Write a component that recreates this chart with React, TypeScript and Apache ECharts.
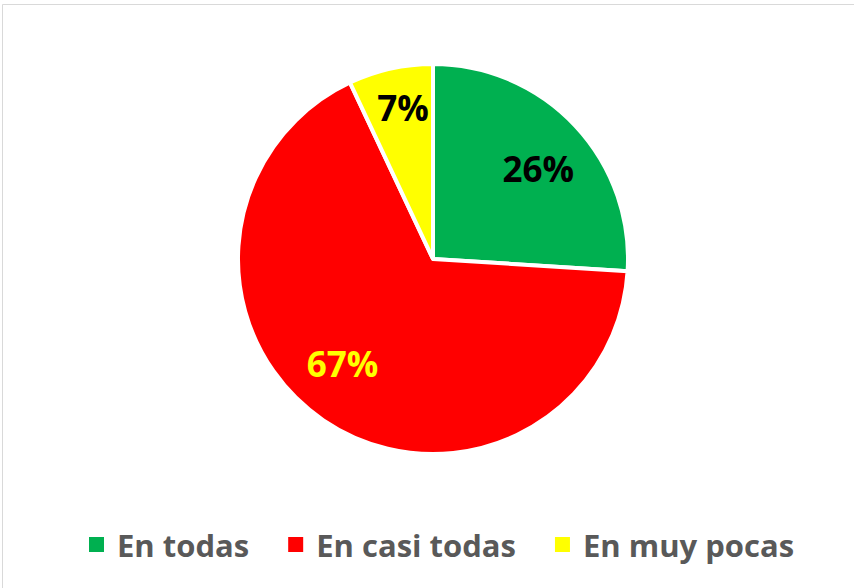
import React, { useEffect, useRef } from "react";
import * as echarts from "echarts";

const categories = ["En todas", "En casi todas", "En muy pocas"];
const values = [26, 67, 7];
const sliceColors = ["#00B050", "#FF0000", "#FFFF00"];
const labelColors = ["#000000", "#FFFF00", "#000000"];
const labelOffsets: [number, number][] = [
  [32, -22],
  [-34, 21],
  [-8, -53],
];

export default function App() {
  const ref = useRef<HTMLDivElement>(null);
  useEffect(() => {
    document.body.style.margin = "0";
    if (!ref.current) return;
    const chart = echarts.init(ref.current, null, { renderer: "svg" });
    chart.setOption({
      animation: false,
      backgroundColor: "#ffffff",
      graphic: [
        {
          type: "rect",
          shape: { x: 2.5, y: 4.5, width: 900, height: 700 },
          style: { fill: "none", stroke: "#d9d9d9", lineWidth: 1 },
          silent: true,
        },
      ],
      legend: {
        data: categories,
        left: 82,
        top: 524,
        itemWidth: 17,
        itemHeight: 17,
        itemGap: 37,
        icon: "rect",
        textStyle: {
          fontFamily: "Open Sans",
          fontWeight: "bold",
          fontSize: 31,
          color: "#595959",
          padding: [0, 0, 0, 7],
        },
      },
      series: [
        {
          type: "pie",
          center: [433, 259],
          radius: [0, 195],
          startAngle: 90,
          clockwise: true,
          avoidLabelOverlap: false,
          itemStyle: { borderColor: "#ffffff", borderWidth: 4 },
          emphasis: { disabled: true },
          label: {
            show: true,
            position: "inside",
            formatter: "{c}%",
            fontFamily: "Open Sans",
            fontWeight: "bold",
            fontSize: 35,
          },
          labelLine: { show: false },
          data: categories.map((name, i) => ({
            name,
            value: values[i],
            itemStyle: { color: sliceColors[i] },
            label: { color: labelColors[i], offset: labelOffsets[i] },
          })),
        },
      ],
    });
    return () => chart.dispose();
  }, []);
  return <div ref={ref} style={{ width: 854, height: 588 }} />;
}
